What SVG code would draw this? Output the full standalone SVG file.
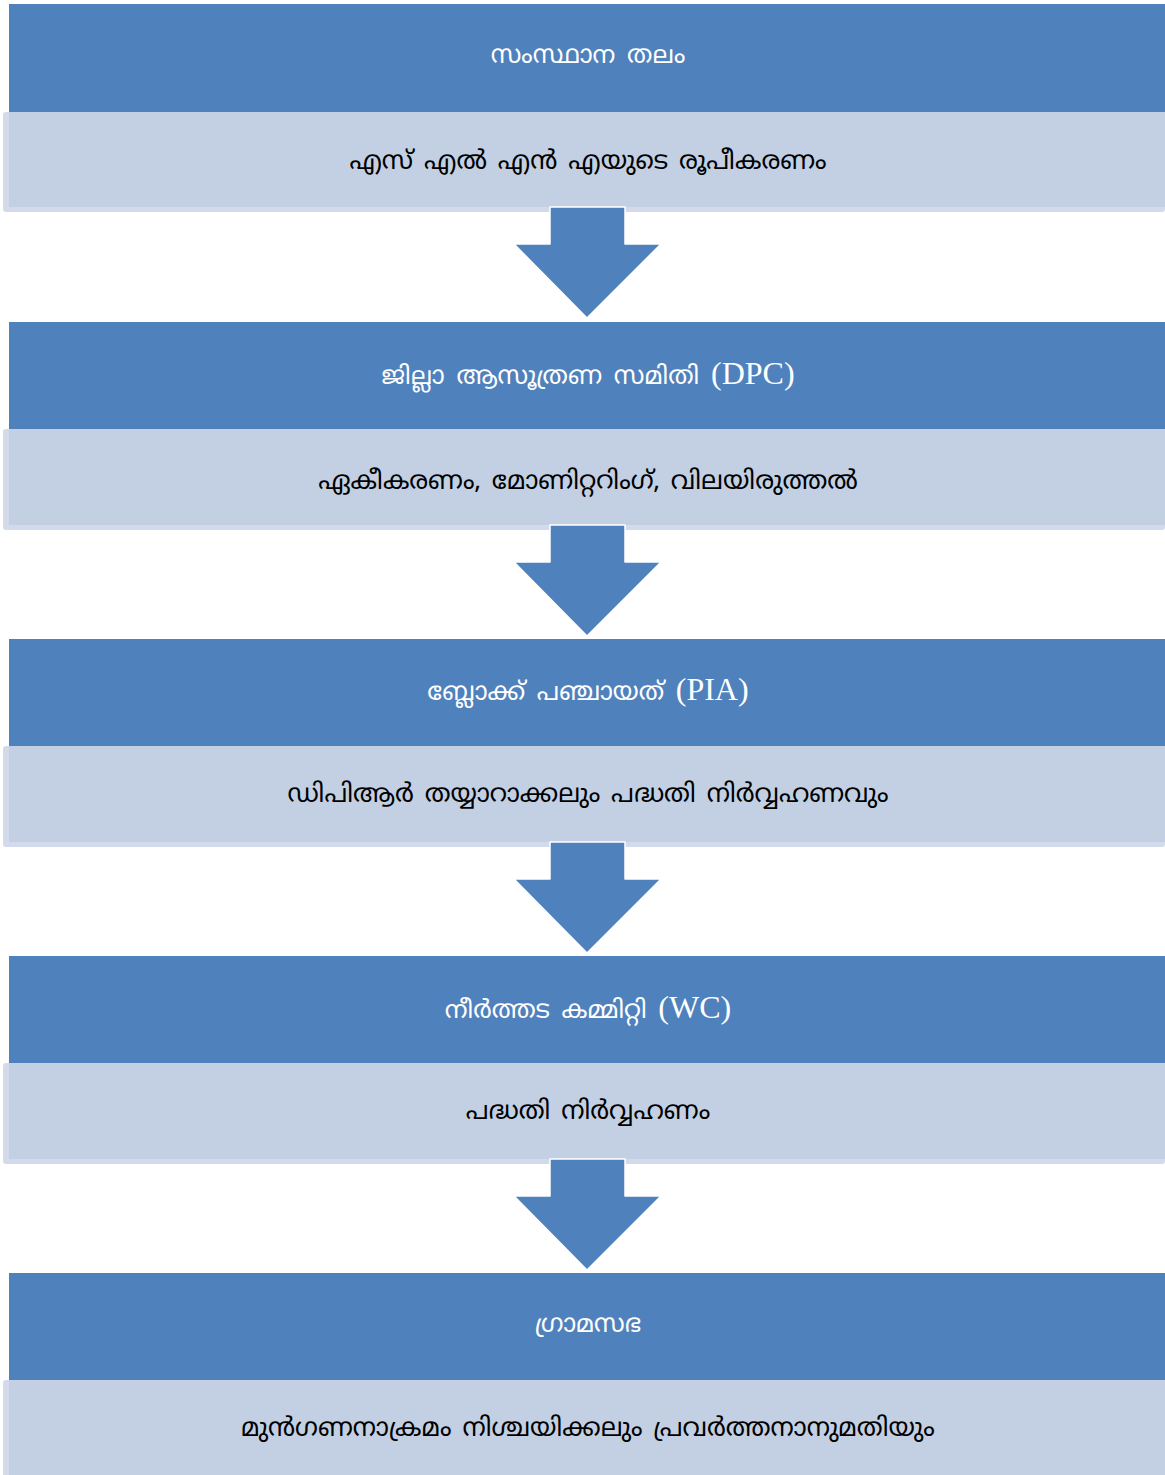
<svg xmlns="http://www.w3.org/2000/svg" width="1165" height="1475" viewBox="0 0 1165 1475">
<style>
.hd{fill:#4F81BD}
.edge{fill:#D3DAEB}
.lt{fill:#C3D0E3}
.ht{fill:#FFFFFF;font-family:"Noto Sans Malayalam","Noto Sans",sans-serif;font-size:25px;word-spacing:4px;text-anchor:middle}
.bt{fill:#000000;font-family:"Noto Sans Malayalam","Noto Sans",sans-serif;font-size:25.5px;word-spacing:3px;text-anchor:middle}
.lat{font-family:"Liberation Serif",serif;font-size:32px;word-spacing:0}
.arr{fill:#4F81BD;stroke:#FFFFFF;stroke-width:1.5;stroke-linejoin:round}
</style>
<rect width="1165" height="1475" fill="#FFFFFF"/>
<g id="level1">
<rect class="hd" x="9" y="4" width="1156" height="108"/>
<rect class="edge" x="3" y="112" width="1162" height="100" rx="3"/>
<rect class="lt" x="9" y="112" width="1156" height="95"/>
<text class="ht" x="588" y="63">സംസ്ഥാന തലം</text>
<text class="bt" x="588" y="169">എസ് എൽ എൻ എയുടെ രൂപീകരണം</text>
</g>
<g id="level2">
<rect class="hd" x="9" y="322" width="1156" height="107"/>
<rect class="edge" x="3" y="429" width="1162" height="101" rx="3"/>
<rect class="lt" x="9" y="429" width="1156" height="96"/>
<text class="ht" x="588" y="384">ജില്ലാ ആസൂത്രണ സമിതി <tspan class="lat">(DPC)</tspan></text>
<text class="bt" x="588" y="489">ഏകീകരണം, മോണിറ്ററിംഗ്, വിലയിരുത്തൽ</text>
</g>
<g id="level3">
<rect class="hd" x="9" y="639" width="1156" height="107"/>
<rect class="edge" x="3" y="746" width="1162" height="101" rx="3"/>
<rect class="lt" x="9" y="746" width="1156" height="96"/>
<text class="ht" x="588" y="700">ബ്ലോക്ക് പഞ്ചായത് <tspan class="lat">(PIA)</tspan></text>
<text class="bt" x="588" y="802">ഡിപിആർ തയ്യാറാക്കലും പദ്ധതി നിർവ്വഹണവും</text>
</g>
<g id="level4">
<rect class="hd" x="9" y="956" width="1156" height="107"/>
<rect class="edge" x="3" y="1063" width="1162" height="101" rx="3"/>
<rect class="lt" x="9" y="1063" width="1156" height="96"/>
<text class="ht" x="588" y="1018">നീർത്തട കമ്മിറ്റി <tspan class="lat">(WC)</tspan></text>
<text class="bt" x="588" y="1119">പദ്ധതി നിർവ്വഹണം</text>
</g>
<g id="level5">
<rect class="hd" x="9" y="1273" width="1156" height="107"/>
<rect class="edge" x="3" y="1380" width="1162" height="101" rx="3"/>
<rect class="lt" x="9" y="1380" width="1156" height="96"/>
<text class="ht" x="588" y="1332">ഗ്രാമസഭ</text>
<text class="bt" x="588" y="1436">മുൻഗണനാക്രമം നിശ്ചയിക്കലും പ്രവർത്തനാനുമതിയും</text>
</g>
<g id="connectors">
<polygon class="arr" points="550,207 625,207 625,244 661,244 587,318 514,244 550,244"/>
<polygon class="arr" points="550,525 625,525 625,562 661,562 587,636 514,562 550,562"/>
<polygon class="arr" points="550,842 625,842 625,879 661,879 587,953 514,879 550,879"/>
<polygon class="arr" points="550,1159 625,1159 625,1196 661,1196 587,1270 514,1196 550,1196"/>
</g>
</svg>
